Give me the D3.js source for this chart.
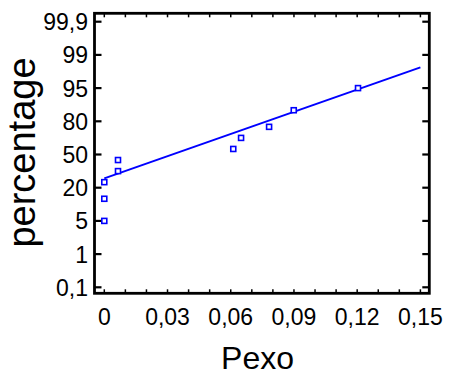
<!DOCTYPE html>
<html><head><meta charset="utf-8">
<script src="https://cdn.jsdelivr.net/npm/d3@7"></script>
<style>body{margin:0;background:#fff}svg{display:block}text{font-family:"Liberation Sans",Arial,sans-serif;fill:#000}</style>
</head><body><svg id="c" width="449" height="377"></svg>
<script>
// Data
const pexo = [0, 0, 0, 0.0065, 0.0065, 0.0612, 0.0649, 0.0782, 0.0899, 0.1204];
const percent = [5, 15, 25, 35, 45, 55, 65, 75, 85, 95];
const fitX = [0, 0.15];
const fitPct = [28.4, 97.5];
const yTicks = [0.1, 1, 5, 20, 50, 80, 95, 99, 99.9];
const yTickLabels = ["0,1", "1", "5", "20", "50", "80", "95", "99", "99,9"];
const xTicks = [0, 0.03, 0.06, 0.09, 0.12, 0.15];
const xTickLabels = ["0", "0,03", "0,06", "0,09", "0,12", "0,15"];
const xMinor = d3.range(0, 16).map(i => i / 100);

const svg = d3.select("#c");
const box = {l: 94.5, r: 429.3, t: 13.3, b: 293.3};
const x = d3.scaleLinear().domain([0, 0.15]).range([104.3, 420.4]);
const yTop = 21.7, yBot = 287.3;
const y = d3.scaleLinear().domain(yTicks)
  .range(yTicks.map((d, i) => yBot - i * (yBot - yTop) / (yTicks.length - 1)));

// frame
svg.append("rect").attr("x", box.l).attr("y", box.t)
  .attr("width", box.r - box.l).attr("height", box.b - box.t)
  .attr("fill", "none").attr("stroke", "#000").attr("stroke-width", 2.8);

// y ticks left & right
const g = svg.append("g").attr("stroke", "#000").attr("stroke-width", 2.2);
yTicks.forEach(v => {
  g.append("line").attr("x1", box.l).attr("x2", box.l + 7).attr("y1", y(v)).attr("y2", y(v));
  g.append("line").attr("x1", box.r).attr("x2", box.r - 7).attr("y1", y(v)).attr("y2", y(v));
});
xMinor.forEach(v => {
  g.append("line").attr("x1", x(v)).attr("x2", x(v)).attr("y1", box.b).attr("y2", box.b - 4).attr("stroke-width", 1.5);
  g.append("line").attr("x1", x(v)).attr("x2", x(v)).attr("y1", box.t).attr("y2", box.t + 4).attr("stroke-width", 1.5);
});

// tick labels
svg.append("g").selectAll("text").data(yTicks).join("text")
  .attr("x", 88).attr("y", d => y(d) + 8.5).attr("text-anchor", "end")
  .attr("font-size", 23).text((d, i) => yTickLabels[i]);
svg.append("g").selectAll("text").data(xTicks).join("text")
  .attr("x", d => x(d)).attr("y", 325).attr("text-anchor", "middle")
  .attr("font-size", 23).text((d, i) => xTickLabels[i]);

// axis titles
svg.append("text").attr("x", 257.5).attr("y", 369).attr("text-anchor", "middle")
  .attr("font-size", 32).text("Pexo");
svg.append("text").attr("transform", "translate(35,152.5) rotate(-90)")
  .attr("text-anchor", "middle").attr("font-size", 38).text("percentage");

// fitted line
const line = d3.line().x(d => x(d[0])).y(d => y(d[1]));
svg.append("path").datum(fitX.map((v, i) => [v, fitPct[i]]))
  .attr("d", line).attr("fill", "none").attr("stroke", "#0000ff").attr("stroke-width", 2);

// points
svg.append("g").selectAll("rect").data(pexo).join("rect")
  .attr("x", (d) => x(d) - 2.5).attr("y", (d, i) => y(percent[i]) - 2.5)
  .attr("width", 5).attr("height", 5)
  .attr("fill", "#fff").attr("stroke", "#0000ff").attr("stroke-width", 1.6);
</script></body></html>
